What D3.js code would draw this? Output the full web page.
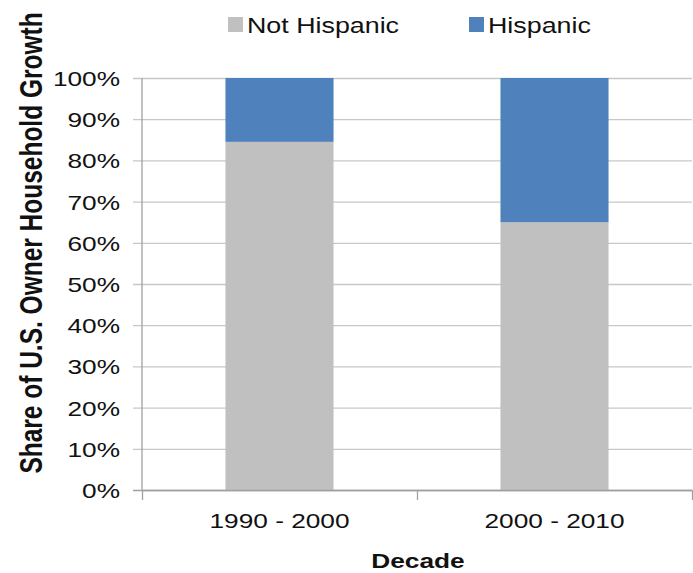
<!DOCTYPE html>
<html>
<head>
<meta charset="utf-8">
<script src="https://cdn.jsdelivr.net/npm/d3@7"></script>
<style>
  html, body { margin: 0; padding: 0; background: #fff; }
  svg { display: block; font-family: "Liberation Sans", Arial, sans-serif; }
</style>
</head>
<body>
<svg id="chart" width="693" height="573"></svg>
<script>
// Decades and each group's share of owner household growth (%)
const decades = ["1990 - 2000", "2000 - 2010"];
const notHispanic = [84.5, 65];
const hispanic = [15.5, 35];
const seriesNames = ["Not Hispanic", "Hispanic"];
const seriesColors = ["#c0c0c0", "#4f81bd"];
const yTicks = [0, 10, 20, 30, 40, 50, 60, 70, 80, 90, 100];

// Text is drawn slightly widened horizontally
const SX = 1.25;
const TEXT = "#111";

const svg = d3.select("#chart");
const margin = { left: 142, right: 1, top: 78, bottom: 83 };
const W = 693, H = 573;
const x0 = margin.left, x1 = W - margin.right;
const y0 = H - margin.bottom, y1 = margin.top;

const rows = decades.map((d, i) => ({
  decade: d,
  "Not Hispanic": notHispanic[i],
  "Hispanic": hispanic[i]
}));

const x = d3.scaleBand().domain(decades).range([x0, x1]).paddingInner(0.607).paddingOuter(0.3035);
const y = d3.scaleLinear().domain([0, 100]).range([y0, y1]);
const color = d3.scaleOrdinal().domain(seriesNames).range(seriesColors);

// Gridlines plus outward tick marks on the value axis
const yAxis = svg.append("g")
  .attr("transform", `translate(${x0},0)`)
  .call(d3.axisLeft(y).tickValues(yTicks).tickSize(-(x1 - x0)).tickSizeOuter(0)
    .tickFormat(d => d + "%"));
yAxis.select(".domain").remove();
yAxis.selectAll(".tick line")
  .attr("x1", -9)
  .attr("stroke", d => d === 0 ? "#a0a0a0" : "#c8c8c8")
  .attr("stroke-width", 1.3);
yAxis.selectAll(".tick text")
  .attr("x", -22 / SX)
  .attr("dy", "0.36em")
  .attr("transform", `scale(${SX},1)`)
  .attr("fill", TEXT)
  .style("font-size", "21px")
  .style("font-family", "'Liberation Sans', Arial, sans-serif");

// Stacked bars
const stack = d3.stack().keys(seriesNames);
svg.append("g").selectAll("g")
  .data(stack(rows))
  .join("g")
  .attr("fill", d => color(d.key))
  .selectAll("rect")
  .data(d => d)
  .join("rect")
  .attr("x", d => x(d.data.decade))
  .attr("width", x.bandwidth())
  .attr("y", d => y(d[1]))
  .attr("height", d => y(d[0]) - y(d[1]));

// Vertical axis line
svg.append("line")
  .attr("x1", x0).attr("x2", x0)
  .attr("y1", y1).attr("y2", y0)
  .attr("stroke", "#a0a0a0").attr("stroke-width", 1.3);

// Category axis: tick marks between categories
const bounds = d3.scaleLinear().domain([0, decades.length]).range([x0, x1]);
const xTicks = svg.append("g")
  .attr("transform", `translate(0,${y0})`)
  .call(d3.axisBottom(bounds).tickValues(d3.range(decades.length + 1)).tickSize(10).tickSizeOuter(0).tickFormat(""));
xTicks.selectAll("line, path").attr("stroke", "#a0a0a0").attr("stroke-width", 1.3);

// Category labels
const xLabels = svg.append("g")
  .attr("transform", `translate(0,${y0})`)
  .call(d3.axisBottom(x).tickSize(0).tickSizeOuter(0));
xLabels.select(".domain").remove();
xLabels.selectAll(".tick text")
  .attr("y", 38).attr("dy", null)
  .attr("transform", `scale(${SX},1)`)
  .attr("fill", TEXT)
  .style("font-size", "21px")
  .style("font-family", "'Liberation Sans', Arial, sans-serif");

// Axis titles
svg.append("text")
  .attr("transform", `translate(${(x0 + x1) / 2 + 1},568) scale(${SX},1)`)
  .attr("text-anchor", "middle")
  .attr("font-weight", "bold")
  .attr("font-size", 21)
  .attr("fill", TEXT)
  .text("Decade");

svg.append("text")
  .attr("transform", `translate(42,243) scale(${SX},1) rotate(-90)`)
  .attr("text-anchor", "middle")
  .attr("font-weight", "bold")
  .attr("font-size", 24.5)
  .attr("fill", TEXT)
  .text("Share of U.S. Owner Household Growth");

// Legend
const legendX = [228, 469];
const legend = svg.append("g").selectAll("g")
  .data(seriesNames)
  .join("g")
  .attr("transform", (d, i) => `translate(${legendX[i]},0)`);
legend.append("rect")
  .attr("x", 0).attr("y", 17)
  .attr("width", 15).attr("height", 15)
  .attr("fill", d => color(d));
legend.append("text")
  .attr("transform", `translate(19,33) scale(1.22,1)`)
  .attr("font-size", 22)
  .attr("fill", TEXT)
  .text(d => d);
</script>
</body>
</html>
